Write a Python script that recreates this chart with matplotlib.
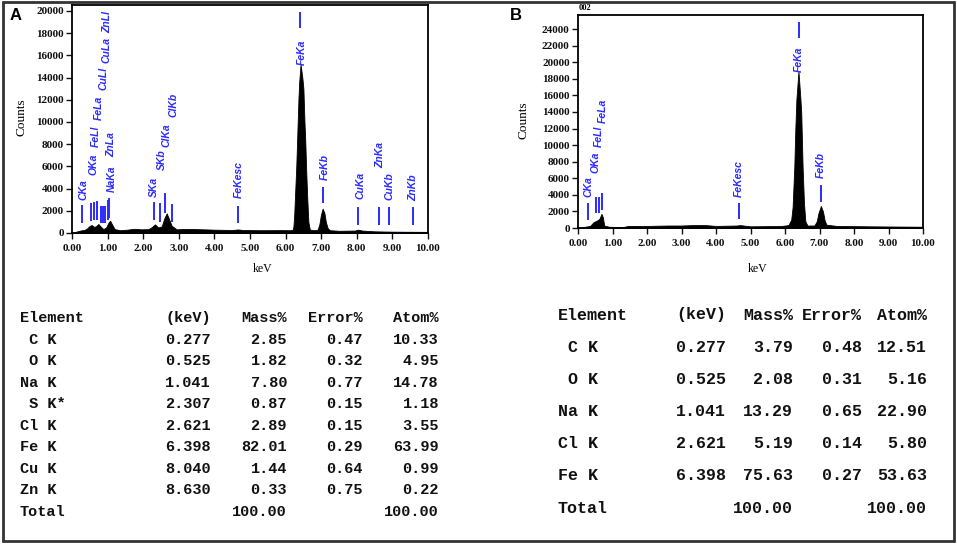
import numpy as np
import matplotlib.pyplot as plt
from matplotlib.patches import Rectangle

W, H = 957, 545
BLUE = '#2b2bff'

# spectrum A (keV, counts)
spec_a_kev = [0.00, 0.08, 0.15, 0.25, 0.35, 0.42, 0.48, 0.55, 0.62, 0.67, 0.74, 0.80,
              0.88, 0.96, 1.02, 1.07, 1.12, 1.20, 1.35, 1.55, 1.75, 1.95, 2.15, 2.25,
              2.33, 2.42, 2.52, 2.59, 2.66, 2.72, 2.80, 2.94, 3.20, 3.50, 4.00, 4.50,
              4.66, 4.80, 5.30, 5.90, 6.12, 6.20, 6.22, 6.24, 6.26, 6.30, 6.33, 6.36,
              6.38, 6.42, 6.47, 6.50, 6.53, 6.55, 6.58, 6.61, 6.64, 6.68, 6.80, 6.90,
              6.95, 6.99, 7.04, 7.09, 7.13, 7.18, 7.24, 7.50, 7.95, 8.04, 8.15, 8.50,
              9.00, 10.00]
spec_a_counts = [0, 80, 150, 230, 280, 400, 600, 720, 550, 600, 810, 600,
                 350, 500, 900, 1110, 800, 350, 250, 300, 380, 330, 350, 550,
                 780, 500, 600, 1300, 1770, 1300, 650, 330, 370, 350, 300, 270,
                 320, 270, 250, 260, 250, 300, 600, 1500, 3000, 6000, 9000, 12000,
                 13500, 15200, 14000, 13000, 10000, 8500, 5500, 3000, 1000, 300, 250, 300,
                 800, 1600, 2200, 1800, 1000, 450, 250, 200, 220, 300, 220, 150,
                 120, 100]

# spectrum B
spec_b_kev = [0.00, 0.10, 0.20, 0.35, 0.45, 0.55, 0.62, 0.68, 0.72, 0.76, 0.90, 1.30,
              1.45, 2.00, 2.60, 3.00, 3.30, 3.70, 4.00, 4.60, 4.70, 5.00, 5.90, 6.10,
              6.18, 6.22, 6.27, 6.30, 6.33, 6.39, 6.44, 6.47, 6.51, 6.55, 6.59, 6.65,
              6.85, 6.92, 6.97, 7.04, 7.10, 7.15, 7.20, 7.50, 8.50, 10.00]
spec_b_counts = [0, 50, 150, 250, 700, 900, 1100, 1700, 1300, 300, 150, 100,
                 250, 250, 300, 300, 350, 350, 250, 300, 350, 200, 250, 350,
                 1000, 2500, 7400, 12000, 15500, 18900, 16000, 14000, 7400, 3000, 800, 300,
                 300, 800, 1800, 2650, 2000, 900, 400, 250, 200, 150]

# marker lines: energy, low, high (counts)
lines_a_kev = [0.277, 0.525, 0.615, 0.705, 0.811, 0.884, 0.930, 1.012, 1.041, 2.307,
               2.464, 2.621, 2.815, 4.66, 6.398, 7.057, 8.04, 8.63, 8.904, 9.571]
lines_a_lo = [900, 1110, 1170, 1170, 900, 900, 900, 1170, 1350, 1170,
              1020, 1770, 1020, 870, 18440, 2670, 720, 720, 720, 720]
lines_a_hi = [2520, 2730, 2820, 2900, 2400, 2400, 2400, 2970, 3150, 2820,
              2670, 3630, 2580, 2460, 19940, 4170, 2340, 2340, 2340, 2340]

labels_a_text = ['CKa', 'OKa', 'FeLl', 'FeLa', 'CuLl', 'CuLa', 'ZnLl', 'NaKa', 'ZnLa',
                 'SKa', 'SKb', 'ClKa', 'ClKb', 'FeKesc', 'FeKa', 'FeKb', 'CuKa',
                 'ZnKa', 'CuKb', 'ZnKb']
labels_a_kev = [0.32, 0.61, 0.67, 0.76, 0.88, 0.97, 1.00, 1.11, 1.11,
                2.30, 2.52, 2.66, 2.85, 4.69, 6.45, 7.11, 8.09, 8.65, 8.93, 9.58]
labels_a_counts = [2970, 5220, 7750, 10180, 12880, 15300, 18000, 3700, 6850,
                   3250, 5670, 7750, 10450, 3150, 15130, 4770, 3070, 5850, 2970, 2880]

lines_b_kev = [0.277, 0.525, 0.615, 0.705, 4.66, 6.398, 7.057]
lines_b_lo = [960, 1800, 1800, 2170, 1080, 22950, 3170]
lines_b_hi = [3000, 3740, 3740, 4220, 3000, 24900, 5190]

labels_b_text = ['CKa', 'OKa', 'FeLl', 'FeLa', 'FeKesc', 'FeKa', 'FeKb']
labels_b_kev = [0.30, 0.52, 0.60, 0.71, 4.65, 6.39, 7.04]
labels_b_counts = [3740, 6630, 9770, 12660, 3740, 18800, 6030]

# quantification tables
header = ['Element', '(keV)', 'Mass%', 'Error%', 'Atom%']
table_a_elements = [' C K', ' O K', 'Na K', ' S K*', 'Cl K', 'Fe K', 'Cu K', 'Zn K']
table_a_kev = [0.277, 0.525, 1.041, 2.307, 2.621, 6.398, 8.040, 8.630]
table_a_mass = [2.85, 1.82, 7.80, 0.87, 2.89, 82.01, 1.44, 0.33]
table_a_error = [0.47, 0.32, 0.77, 0.15, 0.15, 0.29, 0.64, 0.75]
table_a_atom = [10.33, 4.95, 14.78, 1.18, 3.55, 63.99, 0.99, 0.22]

table_b_elements = [' C K', ' O K', 'Na K', 'Cl K', 'Fe K']
table_b_kev = [0.277, 0.525, 1.041, 2.621, 6.398]
table_b_mass = [3.79, 2.08, 13.29, 5.19, 75.63]
table_b_error = [0.48, 0.31, 0.65, 0.14, 0.27]
table_b_atom = [12.51, 5.16, 22.90, 5.80, 53.63]

total_mass = 100.00
total_atom = 100.00

plt.rcParams['font.family'] = ['Liberation Serif', 'DejaVu Serif']
plt.rcParams['font.weight'] = 'bold'

fig = plt.figure(figsize=(W / 100, H / 100), dpi=100)


def axes_px(left, top, right, bottom):
    return fig.add_axes([left / W, 1 - bottom / H, (right - left) / W, (bottom - top) / H])


def draw_spectrum(ax, kev, counts, ytop, ymax_tick, lk, llo, lhi, tx, tk, tc):
    ax.fill_between(kev, counts, 0, color='black', lw=0.6)
    ax.set_xlim(0, 10)
    ax.set_ylim(0, ytop)
    xt = np.arange(0, 11, 1)
    ax.set_xticks(xt)
    ax.set_xticklabels(['%.2f' % v for v in xt])
    ax.set_yticks(np.arange(0, ymax_tick + 1, 2000))
    ax.tick_params(axis='both', direction='out', length=4, width=1, labelsize=8,
                   colors='#111111')
    ax.tick_params(axis='x', pad=4)
    ax.tick_params(axis='y', pad=2)
    for sp in ax.spines.values():
        sp.set_linewidth(1.3)
    for e, lo, hi in zip(lk, llo, lhi):
        ax.plot([e, e], [lo, hi], color=BLUE, lw=1.4, solid_capstyle='butt')
    for name, x, y in zip(tx, tk, tc):
        ax.text(x, y, name, rotation=90, ha='center', va='bottom', color=BLUE,
                fontsize=7.5, fontstyle='italic', fontweight='bold',
                family=['Liberation Sans', 'DejaVu Sans'])


ax_a = axes_px(72, 5, 428, 233)
draw_spectrum(ax_a, spec_a_kev, spec_a_counts, 20540, 20000,
              lines_a_kev, lines_a_lo, lines_a_hi,
              labels_a_text, labels_a_kev, labels_a_counts)
ax_a.set_xlabel('keV', fontsize=8.5)
ax_a.xaxis.set_label_coords(0.536, -0.131)
ax_a.set_ylabel('Counts', fontsize=9.5)
ax_a.yaxis.set_label_coords(-0.126, 0.507)

ax_b = axes_px(578, 15, 923, 228)
draw_spectrum(ax_b, spec_b_kev, spec_b_counts, 25690, 24000,
              lines_b_kev, lines_b_lo, lines_b_hi,
              labels_b_text, labels_b_kev, labels_b_counts)
ax_b.set_xlabel('keV', fontsize=8.5)
ax_b.xaxis.set_label_coords(0.52, -0.164)
ax_b.set_ylabel('Counts', fontsize=9.5)
ax_b.yaxis.set_label_coords(-0.142, 0.507)

fig.text(585 / W, 1 - 8 / H, '002', fontsize=6, ha='center', va='center')
fig.text(16 / W, 1 - 16 / H, 'A', fontsize=12, ha='center', va='center',
         family=['Liberation Sans', 'DejaVu Sans'], fontweight='bold')
fig.text(516 / W, 1 - 16 / H, 'B', fontsize=12, ha='center', va='center',
         family=['Liberation Sans', 'DejaVu Sans'], fontweight='bold')


def draw_table(elements, kev, mass, error, atom, x_elem, x_cols, y0, dy, size, weight):
    kw = dict(fontsize=size, fontweight=weight, va='center', color='#111111',
              family=['Liberation Mono', 'DejaVu Sans Mono'])
    rows = [header]
    for e, k, m, er, a in zip(elements, kev, mass, error, atom):
        rows.append([e, '%.3f' % k, '%.2f' % m, '%.2f' % er, '%.2f' % a])
    rows.append(['Total', '', '%.2f' % total_mass, '', '%.2f' % total_atom])
    for i, row in enumerate(rows):
        y = 1 - (y0 + i * dy) / H
        fig.text(x_elem / W, y, row[0], ha='left', **kw)
        for xc, s in zip(x_cols, row[1:]):
            fig.text(xc / W, y, s, ha='right', **kw)


draw_table(table_a_elements, table_a_kev, table_a_mass, table_a_error, table_a_atom,
           20, [211, 287, 363, 439], 318, 21.55, 11, 'bold')
draw_table(table_b_elements, table_b_kev, table_b_mass, table_b_error, table_b_atom,
           558, [726, 793, 862, 927], 315, 32.2, 12, 'bold')

fig.add_artist(Rectangle((3 / W, 1 - 541 / H), 951 / W, 539 / H, transform=fig.transFigure,
                         fill=False, lw=2, ec='#333333'))

fig.savefig('out.png', dpi=100)
